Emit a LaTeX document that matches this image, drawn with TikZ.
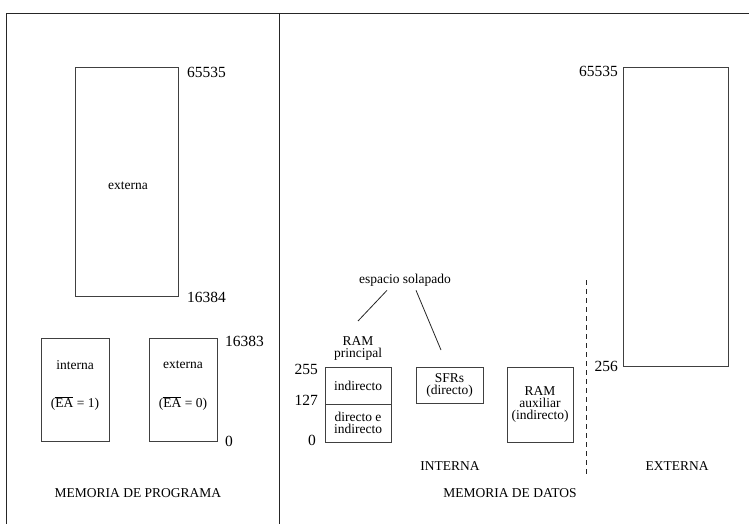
\documentclass[tikz,border=0pt]{standalone}
\usepackage{fontspec}
\setmainfont{Liberation Serif}
\usepackage{tikz}
\usetikzlibrary{calc, positioning}
\tikzset{
  caja/.style={
    draw=black!75,
    rectangle,
    line width=0.8pt,
    inner sep=0pt,
    align=center,
    font=\fontsize{13.5}{12}\selectfont,
  },
  texto/.style={
    inner sep=0pt,
    align=center,
    font=\fontsize{13.5}{12}\selectfont
  },
  numero/.style={
    inner sep=0pt,
    font=\fontsize{15.5}{17}\selectfont
  },
  marco/.style={
    line width=0.8pt,
    black!85
  }
}

\begin{document}
\begin{tikzpicture}[x=1pt, y=-1pt]
  \useasboundingbox (0,0) rectangle (749,524);

  % Marco
  \coordinate (m1) at (6,524);
  \coordinate (m2) at (6,13);
  \coordinate (m3) at (749,13);
  \coordinate (d1) at (279,13);
  \coordinate (d2) at (279,524);
  \draw[marco] (m1) -- (m2) -- (m3);
  \draw[marco] (d1) -- (d2);

  % Memoria de programa
  \node[caja, minimum width=103, minimum height=229] (pext) at (126.5,181.5) {};
  \node[texto] (pexttxt) at (128,186) {externa};
  \node[numero, anchor=west] (p65535) at (187,72) {65535};
  \node[numero, anchor=west] (p16384) at (187,297) {16384};

  \node[caja, minimum width=68, minimum height=103] (pint) at (75,389.5) {};
  \node[caja, minimum width=68, minimum height=103] (pext2) at (183,389.5) {};
  \node[texto] (pinttxt) at (75,365) {interna};
  \node[texto] (pintea) at (75,403) {($\overline{\mbox{EA}}$ = 1)};
  \node[texto] (pext2txt) at (183,365) {externa};
  \node[texto] (pext2ea) at (183,403) {($\overline{\mbox{EA}}$ = 0)};
  \node[numero, anchor=west] (p16383) at (225,341) {16383};
  \node[numero, anchor=west] (p0) at (225,441) {0};

  \node[texto] (tprog) at (138,493) {MEMORIA DE PROGRAMA};

  % Memoria de datos interna
  \node[caja, minimum width=66, minimum height=37] (ramsup) at (358,385.5) {indirecto};
  \node[caja, minimum width=66, minimum height=38] (raminf) at (358,423) {directo e\\indirecto};
  \node[texto] (ramtit) at (358,348.5) {RAM\\principal};
  \node[numero, anchor=east] (d255) at (318,369) {255};
  \node[numero, anchor=east] (d127) at (318,400) {127};
  \node[numero, anchor=east] (d0) at (316,440) {0};

  \node[caja, minimum width=67, minimum height=36] (sfr) at (449.5,385) {SFRs\\(directo)};
  \node[caja, minimum width=66, minimum height=75] (ramaux) at (540,404.5) {RAM\\auxiliar\\(indirecto)};

  \node[texto] (solap) at (405,280) {espacio solapado};
  \coordinate (s1) at (358,321);
  \coordinate (s2) at (441,350);
  \draw[marco] ($(solap.south)+(-18,4)$) -- (s1);
  \draw[marco] ($(solap.south)+(11,4)$) -- (s2);

  % Separacion interna / externa
  \coordinate (sep1) at (586,280);
  \coordinate (sep2) at (586,475);
  \draw[marco, dashed, dash pattern=on 5pt off 4pt] (sep1) -- (sep2);

  \node[texto] (tint) at (450,466) {INTERNA};
  \node[texto] (text) at (677,466) {EXTERNA};

  % Memoria de datos externa
  \node[caja, minimum width=105, minimum height=299] (dext) at (675.5,216.5) {};
  \node[numero, anchor=east] (d65535) at (618,71) {65535};
  \node[numero, anchor=east] (d256) at (618,366) {256};

  \node[texto] (tdat) at (510,493) {MEMORIA DE DATOS};
\end{tikzpicture}
\end{document}
